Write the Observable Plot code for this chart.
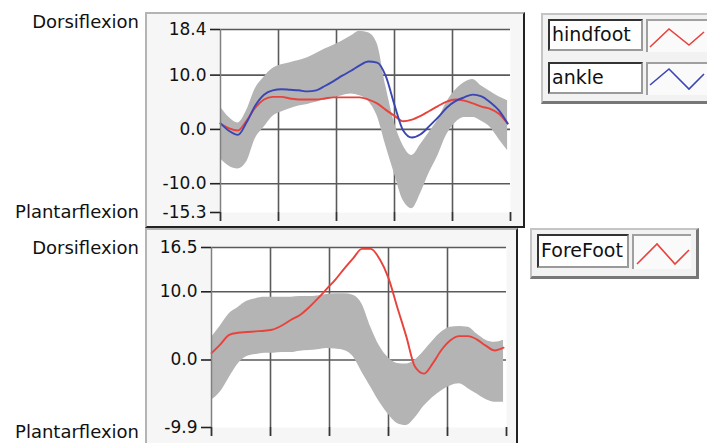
<!DOCTYPE html>
<html>
<head>
<meta charset="utf-8">
<script src="https://cdn.jsdelivr.net/npm/d3@7"></script>
<script src="https://cdn.jsdelivr.net/npm/@observablehq/plot@0.6"></script>
<style>
  html, body { margin: 0; padding: 0; }
  body { width: 707px; height: 443px; overflow: hidden; background: #fff; position: relative; font-family: "DejaVu Sans", sans-serif; color: #111; }
  .abs { position: absolute; }
  .side { position: absolute; left: 0; width: 139px; text-align: right; font-size: 18px; line-height: 18px; white-space: nowrap; }
  .panel { position: absolute; box-sizing: border-box; background: #f6f6f6;
           border-top: 2px solid #b4b4b4; border-left: 2px solid #b4b4b4;
           border-right: 2px solid #222; border-bottom: 2px solid #222; }
  .legend { position: absolute; box-sizing: border-box; background: #f2f2f2;
            border-top: 2px solid #c4c4c4; border-left: 2px solid #c4c4c4;
            border-right: 3px solid #777; border-bottom: 3px solid #777; }
  .lbl { position: absolute; box-sizing: border-box; background: #fff;
         border-top: 2px solid #333; border-left: 2px solid #333;
         border-right: 2px solid #9a9a9a; border-bottom: 2px solid #9a9a9a;
         font-size: 19px; line-height: 26px; padding-left: 2px; white-space: nowrap; }
  .swatch { position: absolute; box-sizing: border-box; background: #fafafa;
            border-top: 2px solid #a0a0a0; border-left: 2px solid #a0a0a0; }
  .swatch svg { position: absolute; left: 0; top: 0; overflow: visible; }
</style>
</head>
<body>
<div class="panel" style="left:145px; top:12px; width:380px; height:216px;"></div>
<div class="panel" style="left:145px; top:228px; width:373px; height:230px;"></div>
<div id="top" class="abs" style="left:145px; top:12px;"></div>
<div id="bottom" class="abs" style="left:145px; top:228px;"></div>

<div class="side" style="top:13px;">Dorsiflexion</div>
<div class="side" style="top:203px;">Plantarflexion</div>
<div class="side" style="top:239px;">Dorsiflexion</div>
<div class="side" style="top:423px;">Plantarflexion</div>

<div class="legend" style="left:541px; top:13px; width:175px; height:91px;"></div>
<div class="lbl" style="left:548px; top:19px; width:95px; height:32px;">hindfoot</div>
<div class="swatch" style="left:646px; top:19px; width:64px; height:33px;"><svg width="62" height="33"><polyline points="2,26 21,8 41,24 56,11" fill="none" stroke="#e8423c" stroke-width="1.6"/></svg></div>
<div class="lbl" style="left:548px; top:62px; width:95px; height:32px;">ankle</div>
<div class="swatch" style="left:646px; top:62px; width:64px; height:33px;"><svg width="62" height="33"><polyline points="2,21 21,5 41,25 56,10" fill="none" stroke="#3a46b4" stroke-width="1.6"/></svg></div>

<div class="legend" style="left:530px; top:228px; width:169px; height:51px;"></div>
<div class="lbl" style="left:537px; top:234px; width:92px; height:34px; line-height:28px;">ForeFoot</div>
<div class="swatch" style="left:632px; top:234px; width:59px; height:35px;"><svg width="58" height="35"><polyline points="3,28 23,8 41,28 55,14" fill="none" stroke="#e8423c" stroke-width="1.6"/></svg></div>

<script>
// ---------- data ----------
const tGrid = [0,3,6,9,12,15,18,21,24,27,30,33,36,39,42,45,48,51,54,57,60,63,66,69,72,75,78,81,84,87,90,93,96,99];

// top panel (hindfoot / ankle)
const topBandHi = [4.1,2.2,1.2,3.5,7.5,9.6,11.2,11.9,12.3,12.7,13.2,14.0,14.8,15.5,16.3,17.2,18.1,17.8,15.8,8.0,1.2,-3.0,-4.8,-2.8,-0.5,1.8,5.0,7.2,8.6,9.2,8.0,7.0,6.0,5.3];
const topBandLo = [-5.4,-6.8,-7.3,-6.0,-1.7,0.4,2.4,3.2,3.8,4.3,4.6,5.0,5.4,5.8,6.2,6.5,6.2,5.2,2.5,-3.0,-8.2,-13.1,-14.6,-11.8,-8.0,-4.8,-1.0,1.2,2.2,2.2,1.5,0.4,-1.8,-3.9];
const hindfoot = [1.1,0.2,-0.2,1.6,4.0,5.5,6.0,6.0,5.7,5.5,5.5,5.5,5.7,5.9,5.9,5.9,5.9,5.5,4.8,3.6,2.5,1.5,1.8,2.5,3.4,4.3,5.1,5.5,5.3,4.8,4.2,3.8,2.9,1.1];
const ankle = [1.1,-0.3,-1.0,1.3,4.4,6.4,7.2,7.4,7.3,7.2,7.0,7.2,8.0,8.9,9.9,10.8,11.8,12.5,12.3,9.8,4.5,-0.2,-1.5,-0.9,0.6,2.2,4.0,5.2,5.9,6.4,6.1,5.0,3.5,1.1];

// bottom panel (forefoot)
const botBandHi = [3.3,5.0,6.8,7.7,8.6,9.0,9.2,9.2,9.2,9.2,9.3,9.3,9.4,9.6,9.7,9.7,9.5,8.2,4.8,2.0,0.3,-0.5,-0.6,0.0,1.3,2.8,4.1,4.8,4.9,4.8,3.8,2.9,2.6,2.9];
const botBandLo = [-5.9,-4.7,-2.6,-0.6,0.5,0.8,1.0,1.0,1.1,1.1,1.3,1.4,1.5,1.7,1.6,1.4,0.5,-1.8,-4.0,-6.2,-8.0,-9.3,-9.6,-8.5,-6.8,-5.5,-4.5,-3.8,-3.5,-4.2,-5.0,-5.8,-6.2,-6.2];
const forefoot = [1.0,2.3,3.7,4.0,4.1,4.2,4.3,4.5,5.1,5.9,6.6,7.7,9.0,10.4,11.8,13.4,14.9,16.3,16.3,14.8,12.0,7.7,3.5,-1.0,-2.0,-0.5,1.5,2.9,3.5,3.5,3.0,2.1,1.4,1.8];

const xTicks = [0,20,40,60,80,100];
const xGrid = [20,40,60,80];
const topYTicks = [18.4,10.0,0.0,-10.0,-15.3];
const topYGrid = [18.4,10.0,0.0,-10.0];
const botYTicks = [16.5,10.0,0.0,-9.9];
const botYGrid = [16.5,10.0,0.0];

// ---------- drawing ----------
const RED = "#e8423c", BLUE = "#3a46b4", BAND = "#b4b4b4", GRID = "#5a5a5a";
const fmt = d => d.toFixed(1);

const topRows = tGrid.map((t, i) => ({t, hi: topBandHi[i], lo: topBandLo[i], hind: hindfoot[i], ankle: ankle[i]}));
const botRows = tGrid.map((t, i) => ({t, hi: botBandHi[i], lo: botBandLo[i], fore: forefoot[i]}));

function panel({rows, width, height, margins, yDomain, yTicks, yGrid, lines}) {
  return Plot.plot({
    width, height,
    marginLeft: margins[0], marginRight: margins[1], marginTop: margins[2], marginBottom: margins[3],
    style: {background: "transparent", fontFamily: "DejaVu Sans, sans-serif", fontSize: "17px", color: "#111", overflow: "visible"},
    x: {domain: [0, 100]},
    y: {domain: yDomain},
    marks: [
      Plot.frame({fill: "#fff", stroke: null}),
      Plot.gridY(yGrid, {stroke: GRID, strokeOpacity: 1, strokeWidth: 1.6}),
      Plot.gridX(xGrid, {stroke: GRID, strokeOpacity: 1, strokeWidth: 1.6}),
      Plot.areaY(rows, {x: "t", y1: "lo", y2: "hi", fill: BAND, curve: "monotone-x"}),
      ...lines.map(([key, color]) => Plot.line(rows, {x: "t", y: key, stroke: color, strokeWidth: 1.9, curve: "monotone-x"})),
      Plot.ruleX([0], {stroke: "#808080", strokeWidth: 1.5}),
      Plot.axisY(yTicks, {tickSize: 10, tickPadding: 4, tickFormat: fmt, label: null, stroke: "#222", strokeWidth: 1.6}),
      Plot.axisX(xTicks, {tickSize: 9, tickFormat: () => "", label: null, stroke: "#333", strokeWidth: 1.8})
    ]
  });
}

document.getElementById("top").append(panel({
  rows: topRows, width: 380, height: 216, margins: [75, 15, 17, 16],
  yDomain: [-15.3, 18.4], yTicks: topYTicks, yGrid: topYGrid,
  lines: [["hind", RED], ["ankle", BLUE]]
}));

document.getElementById("bottom").append(panel({
  rows: botRows, width: 373, height: 217, margins: [66, 12, 19, 18],
  yDomain: [-9.9, 16.5], yTicks: botYTicks, yGrid: botYGrid,
  lines: [["fore", RED]]
}));
</script>
</body>
</html>
